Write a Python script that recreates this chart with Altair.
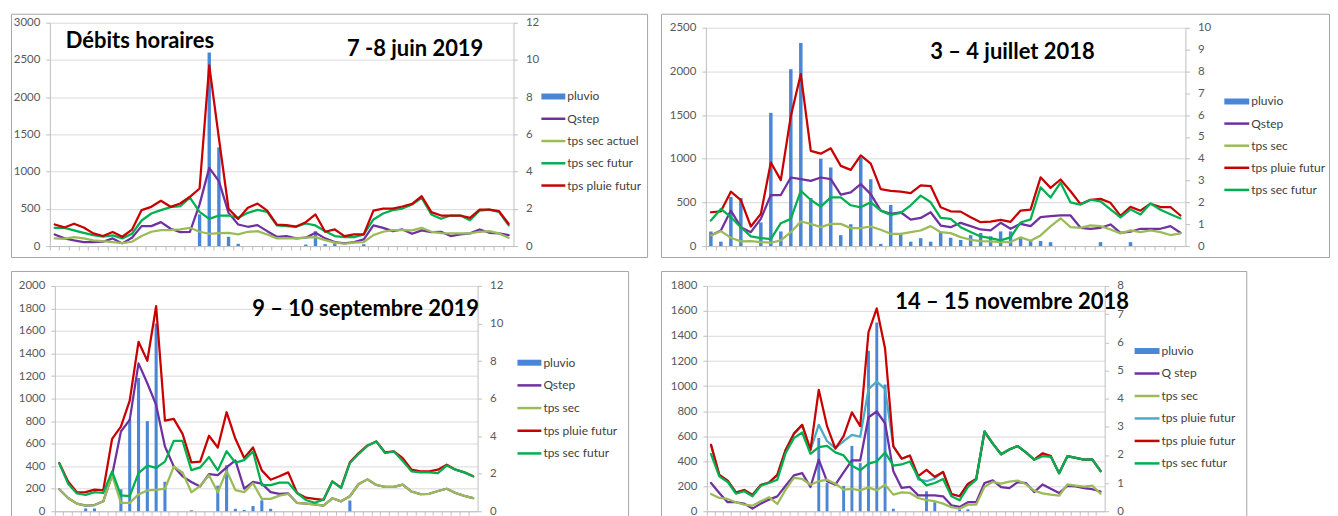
import altair as alt
import pandas as pd

HOURS = list(range(48))

# ---------------- Panel 1 : 7-8 juin 2019 ----------------
p1_pluvio = [0, 0, 0, 0, 0, 0, 0, 0, 0, 0, 0, 0, 0, 0, 0, 1.7, 10.4, 5.3, 0.5, 0.12,
             0, 0, 0, 0, 0, 0, 0.08, 0.8, 0.1, 0.15, 0, 0, 0.1, 0, 0, 0, 0, 0, 0, 0,
             0, 0, 0, 0, 0, 0, 0, 0]
p1_qstep = [156, 103, 76, 54, 54, 58, 103, 36, 112, 268, 268, 321, 232, 187, 192, 560, 1050, 872, 446, 290,
            259, 281, 200, 125, 134, 103, 112, 178, 103, 54, 36, 54, 89, 277, 245, 200, 223, 165, 210, 187,
            192, 134, 156, 170, 223, 178, 170, 147]
p1_sec_actuel = [103, 98, 120, 103, 76, 67, 54, 40, 58, 134, 192, 214, 214, 223, 245, 192, 165, 174, 178, 156,
                 192, 200, 156, 103, 103, 103, 112, 120, 80, 45, 31, 45, 54, 147, 192, 214, 214, 210, 245, 192,
                 174, 170, 170, 170, 192, 200, 170, 112]
p1_sec_futur = [245, 245, 210, 178, 147, 125, 143, 103, 165, 343, 437, 482, 522, 535, 650, 460, 365, 410, 410, 379,
                446, 486, 459, 277, 268, 259, 303, 277, 200, 134, 120, 120, 156, 357, 437, 482, 504, 558, 647, 424,
                366, 410, 410, 348, 477, 490, 459, 277]
p1_pluie_futur = [290, 250, 300, 250, 170, 135, 190, 125, 220, 483, 527, 608, 527, 572, 662, 773, 2427, 1450, 500, 365,
                  514, 570, 477, 288, 280, 262, 320, 424, 192, 223, 134, 156, 156, 477, 504, 504, 531, 566, 669, 455,
                  410, 410, 410, 379, 490, 490, 468, 299]

# ---------------- Panel 2 : 3-4 juillet 2018 ----------------
p2_pluvio = [0.67, 0.2, 2.25, 2.2, 0, 1.08, 6.1, 0.67, 8.1, 9.3, 2.2, 4.0, 3.6, 0.5, 1.0, 4.05, 3.06, 0.1, 1.88, 0.6,
             0.2, 0.36, 0.2, 0.66, 0.38, 0.28, 0.5, 0.6, 0.45, 0.67, 0.67, 0.38, 0.23, 0.23, 0.18, 0, 0, 0, 0, 0.18,
             0, 0, 0.18, 0, 0, 0, 0, 0]
p2_qstep = [121, 178, 406, 216, 159, 311, 584, 584, 785, 766, 747, 785, 766, 588, 614, 709, 595, 406, 368, 387,
            303, 322, 387, 235, 216, 266, 228, 190, 179, 266, 198, 255, 228, 331, 342, 350, 350, 209, 198, 209,
            247, 152, 164, 198, 198, 198, 228, 152]
p2_sec = [121, 171, 95, 53, 57, 46, 38, 64, 159, 281, 254, 216, 254, 254, 205, 205, 224, 186, 140, 140,
          159, 178, 228, 159, 148, 102, 72, 57, 53, 46, 46, 100, 60, 122, 225, 318, 217, 209, 236, 228,
          190, 145, 179, 160, 179, 160, 126, 145]
p2_pluie_futur = [387, 398, 622, 527, 224, 368, 956, 755, 1487, 1969, 1089, 1058, 1119, 918, 872, 1039, 944, 652, 633, 622,
                  607, 694, 687, 444, 398, 394, 330, 273, 280, 300, 278, 407, 418, 787, 666, 762, 628, 480, 530, 540,
                  495, 345, 449, 405, 485, 447, 447, 350]
p2_sec_futur = [292, 425, 330, 216, 110, 91, 80, 262, 311, 633, 527, 451, 558, 558, 467, 444, 501, 406, 357, 379,
                467, 577, 501, 322, 311, 216, 160, 110, 90, 65, 100, 270, 305, 673, 555, 725, 500, 475, 530, 512,
                420, 328, 420, 360, 487, 415, 365, 316]

# ---------------- Panel 3 : 9-10 septembre 2019 ----------------
p3_pluvio = [0, 0, 0, 0.15, 0.15, 0, 0, 1.17, 4.9, 7.1, 4.8, 10.0, 1.57, 0, 0, 0.05, 0, 0, 1.36, 2.45,
             0.13, 0.07, 0.28, 0.58, 0.13, 0, 0, 0, 0, 0, 0, 0, 0, 0.57, 0, 0, 0, 0, 0, 0,
             0, 0, 0, 0, 0, 0, 0, 0]
p3_qstep = [195, 118, 68, 50, 55, 88, 320, 708, 811, 1313, 1136, 944, 575, 398, 310, 260, 220, 330, 320, 390,
            452, 200, 260, 245, 170, 155, 158, 74, 68, 62, 50, 115, 88, 133, 242, 283, 233, 217, 217, 237,
            175, 152, 155, 180, 200, 162, 137, 117]
p3_sec = [195, 118, 68, 50, 55, 88, 320, 74, 74, 150, 185, 190, 200, 395, 345, 168, 225, 320, 168, 360,
          188, 170, 248, 110, 110, 139, 153, 74, 68, 62, 50, 115, 88, 133, 242, 283, 233, 217, 217, 237,
          175, 152, 155, 180, 200, 162, 137, 117]
p3_pluie_futur = [428, 265, 168, 170, 192, 186, 643, 752, 982, 1504, 1336, 1820, 805, 820, 687, 434, 440, 670, 566, 879,
                  643, 472, 566, 363, 280, 310, 345, 162, 120, 110, 100, 265, 210, 435, 516, 584, 620, 522, 531, 472,
                  369, 354, 354, 369, 413, 369, 345, 310]
p3_sec_futur = [425, 245, 158, 145, 170, 162, 354, 140, 135, 339, 405, 385, 440, 625, 625, 365, 389, 481, 363, 533,
                432, 454, 531, 232, 232, 254, 254, 162, 100, 75, 103, 265, 206, 428, 510, 581, 620, 516, 531, 445,
                354, 345, 345, 339, 407, 369, 345, 310]

# ---------------- Panel 4 : 14-15 novembre 2018 ----------------
p4_pluvio = [0, 0, 0, 0, 0, 0, 0, 0, 0, 0, 0, 0, 0, 2.6, 1.0, 0, 0.9, 2.32, 1.71, 5.7,
             6.7, 4.5, 0.09, 0, 0, 0, 0.71, 0.32, 0, 0, 0.06, 0.07, 0, 0, 0, 0, 0, 0, 0, 0,
             0, 0, 0, 0, 0, 0, 0, 0]
p4_qstep = [226, 146, 72, 72, 61, 21, 61, 93, 119, 204, 287, 305, 194, 412, 239, 212, 311, 406, 406, 751,
            797, 703, 319, 186, 194, 127, 127, 127, 119, 48, 35, 72, 72, 226, 247, 193, 185, 232, 225, 153,
            214, 180, 146, 203, 198, 185, 176, 158]
p4_sec = [138, 106, 98, 72, 53, 45, 80, 112, 58, 173, 266, 258, 212, 239, 252, 220, 173, 178, 167, 191,
          167, 212, 133, 151, 146, 106, 88, 80, 61, 32, 21, 53, 53, 195, 235, 220, 236, 245, 215, 165,
          143, 132, 124, 214, 205, 196, 205, 140]
p4_pluie_futur_a = [530, 290, 245, 150, 170, 130, 210, 230, 290, 490, 620, 690, 490, 690, 560, 505, 560, 610, 595, 975,
                    1035, 975, 519, 420, 445, 255, 240, 262, 314, 138, 120, 218, 258, 635, 540, 455, 493, 521, 470, 412,
                    463, 440, 303, 440, 427, 412, 414, 322]
p4_pluie_futur_b = [530, 290, 245, 150, 170, 130, 210, 230, 290, 490, 620, 690, 490, 970, 680, 500, 600, 790, 680, 1430,
                    1620, 1300, 519, 420, 445, 280, 331, 275, 314, 138, 120, 218, 258, 635, 540, 455, 493, 521, 470, 412,
                    463, 440, 303, 440, 427, 412, 414, 322]
p4_sec_futur = [457, 279, 234, 140, 160, 120, 204, 226, 252, 465, 584, 629, 459, 512, 523, 470, 446, 364, 327, 380,
                398, 470, 364, 374, 398, 271, 207, 226, 258, 119, 88, 194, 252, 640, 540, 455, 493, 521, 470, 412,
                440, 435, 303, 440, 427, 412, 414, 319]

# ---------------- labels ----------------
p1_labels = ["pluvio", "Qstep", "tps sec actuel", "tps sec futur", "tps pluie futur"]
p2_labels = ["pluvio", "Qstep", "tps sec", "tps pluie futur", "tps sec futur"]
p3_labels = ["pluvio", "Qstep", "tps sec", "tps pluie futur", "tps sec futur"]
p4_labels = ["pluvio", "Q step", "tps sec", "tps pluie futur", "tps pluie futur", "tps sec futur"]

# ---------------- styles ----------------
BLUE = "#4A86D6"
PURPLE = "#7030A0"
OLIVE = "#9BBB59"
GREEN = "#00B050"
RED = "#C80000"
TEAL = "#4BACC6"
FONT = "Lato"
AX_GRAY = "#BFBFBF"


def make_panel(W, H, xr, yr, lmax, lticks, rmax, rticks, pluvio, series, labels, colors,
               leg_x, leg_y, titles):
    xenc = alt.X("h:O",
                 scale=alt.Scale(type="band", domain=HOURS, range=xr, paddingInner=0, paddingOuter=0),
                 axis=alt.Axis(orient="bottom", offset=yr[0] - H, labels=False, tickSize=4,
                               bandPosition=0, grid=False, title=None))
    bars = alt.Chart(pd.DataFrame({"h": HOURS, "v": pluvio})).mark_bar(
        color=BLUE, width=alt.RelativeBandSize(0.35)
    ).encode(
        x=xenc,
        y=alt.Y("v:Q", scale=alt.Scale(domain=[0, rmax], range=yr, nice=False, zero=True),
                axis=alt.Axis(orient="right", values=rticks, offset=xr[1] - W, grid=False, format="d",
                              title=None, tickSize=4, labelPadding=8)),
    )
    lines = []
    for vals, col in series:
        lines.append(
            alt.Chart(pd.DataFrame({"h": HOURS, "v": vals})).mark_line(
                color=col, strokeWidth=2.25, strokeJoin="round", strokeCap="round"
            ).encode(
                x=xenc,
                y=alt.Y("v:Q", scale=alt.Scale(domain=[0, lmax], range=yr, nice=False, zero=True),
                        axis=alt.Axis(orient="left", values=lticks, offset=-xr[0], grid=True, format="d",
                                      title=None, tickSize=4, labelPadding=6)),
            )
        )
    keys = [f"k{i}" for i in range(len(labels))]
    ldf = pd.DataFrame({"key": keys, "label": labels})
    ly = alt.Y("key:N", scale=alt.Scale(type="point", domain=keys, range=leg_y, padding=0), axis=None)
    lc = alt.Color("key:N", scale=alt.Scale(domain=keys, range=colors), legend=None)
    sx0, sx1, tx = leg_x
    leg_bar = alt.Chart(ldf).transform_filter(alt.datum.key == "k0").mark_rule(strokeWidth=6).encode(
        x=alt.value(sx0), x2=alt.value(sx1), y=ly, color=lc)
    leg_line = alt.Chart(ldf).transform_filter(alt.datum.key != "k0").mark_rule(strokeWidth=2.5).encode(
        x=alt.value(sx0), x2=alt.value(sx1), y=ly, color=lc)
    leg_text = alt.Chart(ldf).mark_text(align="left", baseline="middle", font=FONT, fontSize=12,
                                        color="#404040").encode(x=alt.value(tx), y=ly, text="label:N")
    layers = [bars, alt.layer(*lines), leg_bar, leg_line, leg_text]
    for txt, tx_, ty_ in titles:
        layers.append(
            alt.Chart(pd.DataFrame({"t": [txt]})).mark_text(
                align="left", baseline="alphabetic", font=FONT, fontSize=22, fontWeight="bold", color="#000000"
            ).encode(x=alt.value(tx_), y=alt.value(ty_), text="t:N")
        )
    return alt.layer(*layers).resolve_scale(y="independent", color="independent").properties(width=W, height=H)


panel1 = make_panel(
    638, 244, [39, 504], [233, 9], 3000, list(range(0, 3001, 500)), 12, list(range(0, 13, 2)),
    p1_pluvio,
    [(p1_qstep, PURPLE), (p1_sec_actuel, OLIVE), (p1_sec_futur, GREEN), (p1_pluie_futur, RED)],
    p1_labels, [BLUE, PURPLE, OLIVE, GREEN, RED],
    (532, 556, 558), [83, 172.3],
    [("Débits horaires", 55, 34), ("7 -8 juin 2019", 337, 42)],
)
panel2 = make_panel(
    670, 244, [45, 526], [233, 14], 2500, list(range(0, 2501, 500)), 10, list(range(0, 11, 1)),
    p2_pluvio,
    [(p2_qstep, PURPLE), (p2_sec, OLIVE), (p2_pluie_futur, RED), (p2_sec_futur, GREEN)],
    p2_labels, [BLUE, PURPLE, OLIVE, RED, GREEN],
    (565, 590, 592), [88, 176.7],
    [("3 – 4 juillet 2018", 270, 45)],
)
panel3 = make_panel(
    619, 248, [44, 468], [241, 15], 2000, list(range(0, 2001, 200)), 12, list(range(0, 13, 2)),
    p3_pluvio,
    [(p3_qstep, PURPLE), (p3_sec, OLIVE), (p3_pluie_futur, RED), (p3_sec_futur, GREEN)],
    p3_labels, [BLUE, PURPLE, OLIVE, RED, GREEN],
    (508, 532, 534), [92, 183],
    [("9 – 10 septembre 2019", 242, 45)],
)
panel4 = make_panel(
    587, 248, [46, 445], [241, 15], 1800, list(range(0, 1801, 200)), 8, list(range(0, 9, 1)),
    p4_pluvio,
    [(p4_qstep, PURPLE), (p4_sec, OLIVE), (p4_pluie_futur_a, TEAL), (p4_pluie_futur_b, RED), (p4_sec_futur, GREEN)],
    p4_labels, [BLUE, PURPLE, OLIVE, TEAL, RED, GREEN],
    (475, 500, 502), [80.3, 193],
    [("14 – 15 novembre 2018", 235, 38)],
)

row1 = alt.hconcat(panel1, panel2, spacing=12).resolve_scale(color="independent")
row2 = alt.hconcat(panel3, panel4, spacing=31).resolve_scale(color="independent")

chart = alt.vconcat(
    row1, row2, spacing=12,
    padding={"left": 2, "top": 4, "right": 0, "bottom": 0},
).resolve_scale(color="independent").configure_view(
    stroke="#A6A6A6", strokeWidth=1
).configure_axis(
    labelFont=FONT, labelFontSize=11.5, labelColor="#595959",
    domainColor=AX_GRAY, tickColor=AX_GRAY, gridColor="#D9D9D9",
    domainWidth=1, tickWidth=1, gridWidth=1,
)

chart.save("out.html", embed_options={"renderer": "svg", "actions": False})
